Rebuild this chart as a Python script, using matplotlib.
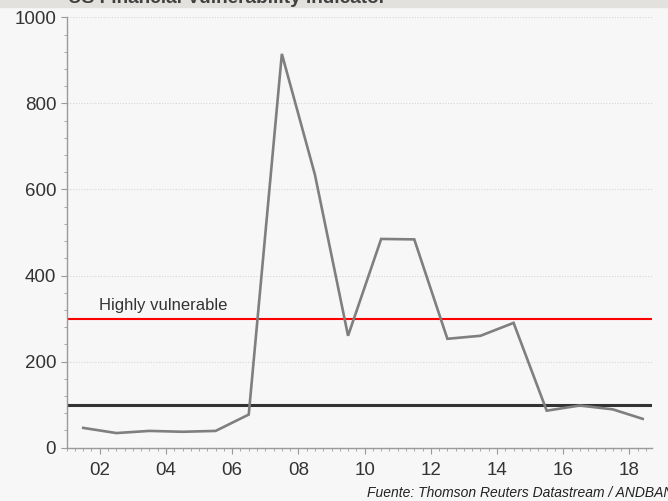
import matplotlib
matplotlib.use("Agg")
import matplotlib.pyplot as plt
from matplotlib.ticker import MultipleLocator, FixedLocator, FuncFormatter

plt.rcParams["font.family"] = ["Liberation Sans", "DejaVu Sans"]

# annual readings, plotted at mid-year
years = [2001.5, 2002.5, 2003.5, 2004.5, 2005.5, 2006.5, 2007.5, 2008.5, 2009.5,
         2010.5, 2011.5, 2012.5, 2013.5, 2014.5, 2015.5, 2016.5, 2017.5, 2018.4]
indicator = [46, 34, 39, 37, 39, 77, 915, 634, 260,
             485, 484, 253, 260, 290, 86, 98, 89, 67]
high_level = 300
base_level = 100
major_years = list(range(2002, 2019, 2))

BG = "#f7f7f7"
fig = plt.figure(figsize=(6.68, 5.01), dpi=100, facecolor=BG)
ax = fig.add_axes([0.0998, 0.1064, 0.8762, 0.8591], facecolor=BG)

ax.plot(years, indicator, color="#7f7f7f", lw=1.9, solid_joinstyle="miter", zorder=3)
ax.axhline(high_level, color="#ff0000", lw=1.5, zorder=2)
ax.axhline(base_level, color="#333333", lw=2.2, zorder=2)
ax.text(2001.97, high_level + 12, "Highly vulnerable", fontsize=12,
        color="#333333", va="bottom", ha="left")

ax.set_xlim(2001.0, 2018.68)
ax.set_ylim(0, 1000)
ax.xaxis.set_major_locator(FixedLocator(major_years))
ax.xaxis.set_minor_locator(MultipleLocator(0.25))
ax.xaxis.set_major_formatter(FuncFormatter(lambda v, p: f"{int(round(v)) % 100:02d}"))
ax.yaxis.set_major_locator(MultipleLocator(200))
ax.yaxis.set_minor_locator(MultipleLocator(40))

ax.grid(axis="y", which="major", color="#d6d6d6", lw=0.8, ls=(0, (1, 1.5)), zorder=0)
for s in ("top", "right"):
    ax.spines[s].set_visible(False)
for s in ("left", "bottom"):
    ax.spines[s].set_color("#9a9a9a")
    ax.spines[s].set_linewidth(1.0)

ax.tick_params(which="major", length=4, color="#9a9a9a", labelsize=13.5,
               labelcolor="#333333")
ax.tick_params(which="minor", length=2.5, color="#9a9a9a")
ax.tick_params(axis="x", which="major", pad=6)

# header strip with the title mostly cut off at the top edge
fig.patches.append(plt.Rectangle((0, 1 - 7 / 501), 1, 7 / 501, transform=fig.transFigure,
                                 color="#e3e1dd", zorder=0))
fig.text(68 / 668, 1 - 3 / 501, "US Financial Vulnerability Indicator",
         fontsize=13.7, fontweight="bold", color="#404040", va="baseline", ha="left")

fig.text(367 / 668, 4 / 501, "Fuente: Thomson Reuters Datastream / ANDBANK",
         fontsize=10, style="italic", color="#222222", va="baseline", ha="left")

fig.savefig("out.png", dpi=100, facecolor=BG)
